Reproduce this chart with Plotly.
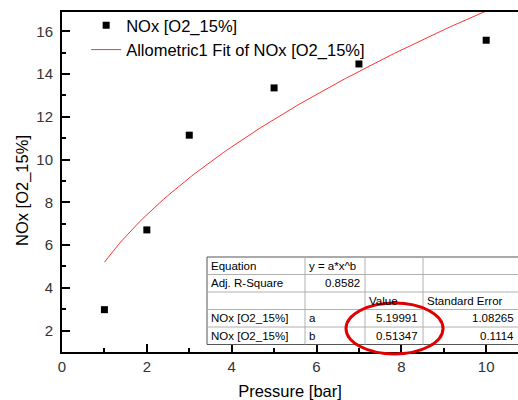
import numpy as np
import plotly.graph_objects as go

# ---- data ----
pressure = [1, 2, 3, 5, 7, 10]
nox = [2.98, 6.71, 11.14, 13.35, 14.47, 15.58]

# fit parameters shown in the table (Allometric1: y = a*x^b)
fit_a = 5.19991
fit_b = 0.51347
fit_x = list(np.linspace(1, 10.8, 120))
fit_y = [fit_a * x ** fit_b for x in fit_x]

# table contents
table_rows = [
    ["Equation", "y = a*x^b", "", ""],
    ["Adj. R-Square", "0.8582", "", ""],
    ["", "", "Value", "Standard Error"],
    ["NOx [O2_15%]", "a", "5.19991", "1.08265"],
    ["NOx [O2_15%]", "b", "0.51347", "0.1114"],
]
table_align = [
    ["left", "left", "left", "left"],
    ["left", "right", "left", "left"],
    ["left", "left", "left", "left"],
    ["left", "left", "right", "right"],
    ["left", "left", "right", "right"],
]

FONT = "Liberation Sans, Arial, sans-serif"
W, H = 518, 400
ML, MR, MT, MB = 62, 0, 12, 48
PW, PH = W - ML - MR, H - MT - MB


def px(x):
    return (x - ML) / PW


def py(y):
    return (H - MB - y) / PH


fig = go.Figure()
fig.add_trace(go.Scatter(
    x=pressure, y=nox, mode="markers", name="NOx [O2_15%]",
    marker=dict(symbol="square", size=7, color="black"),
))
fig.add_trace(go.Scatter(
    x=fit_x, y=fit_y, mode="lines", name="Allometric1 Fit of NOx [O2_15%]",
    line=dict(color="#ff3333", width=1),
))

shapes = []
annotations = []

# table geometry (pixels)
col_x = [207, 305, 365, 423, 530]
row_y = [257, 274.5, 292, 309.5, 327, 344.5]
shapes.append(dict(type="rect", xref="paper", yref="paper",
                   x0=px(col_x[0]), x1=px(col_x[-1]), y0=py(row_y[-1]), y1=py(row_y[0]),
                   fillcolor="white", line=dict(color="#555", width=1), layer="above"))
for cx in col_x[1:-1]:
    shapes.append(dict(type="line", xref="paper", yref="paper",
                       x0=px(cx), x1=px(cx), y0=py(row_y[-1]), y1=py(row_y[0]),
                       line=dict(color="#b0b0b0", width=1), layer="above"))
for ry in row_y[1:-1]:
    shapes.append(dict(type="line", xref="paper", yref="paper",
                       x0=px(col_x[0]), x1=px(col_x[-1]), y0=py(ry), y1=py(ry),
                       line=dict(color="#b0b0b0", width=1), layer="above"))

for r, row in enumerate(table_rows):
    yc = (row_y[r] + row_y[r + 1]) / 2
    for c, txt in enumerate(row):
        if not txt:
            continue
        al = table_align[r][c]
        if al == "left":
            xx, anc = col_x[c] + 2, "left"
        else:
            right_edge = col_x[c + 1] if c + 1 < len(col_x) - 1 else 519
            xx, anc = right_edge - 3, "right"
        annotations.append(dict(text=txt, xref="paper", yref="paper",
                                x=px(xx), y=py(yc), xanchor=anc, yanchor="middle",
                                showarrow=False, font=dict(family=FONT, size=11.5, color="black")))

# y axis title
annotations.append(dict(text="NOx [O2_15%]", xref="paper", yref="paper",
                        x=px(22), y=py(191), xanchor="center", yanchor="middle",
                        textangle=-90, showarrow=False,
                        font=dict(family=FONT, size=16.5, color="black")))

# red highlight ellipse
shapes.append(dict(type="circle", xref="paper", yref="paper",
                   x0=px(346), x1=px(443), y0=py(354), y1=py(303),
                   line=dict(color="#e00000", width=3), layer="above"))

axis_common = dict(
    showline=True, linecolor="black", linewidth=2,
    ticks="inside", ticklen=8, tickwidth=1.5, tickcolor="black",
    showgrid=False, zeroline=False, automargin=False,
    tickfont=dict(family=FONT, size=15, color="#333"),
    minor=dict(ticks="inside", ticklen=4, tickwidth=1.5, tickcolor="black", dtick=1, showgrid=False),
)

fig.update_layout(
    width=W, height=H,
    margin=dict(l=ML, r=MR, t=MT, b=MB),
    paper_bgcolor="white", plot_bgcolor="white",
    font=dict(family=FONT, color="black"),
    showlegend=True,
    legend=dict(x=0.053, y=1.012, xanchor="left", yanchor="top",
                bgcolor="rgba(0,0,0,0)", font=dict(family=FONT, size=16.5, color="black"),
                tracegroupgap=0, itemwidth=30),
    xaxis=dict(range=[0, 10.75], dtick=2, tick0=0, mirror=True,
               title=dict(text="Pressure [bar]", font=dict(family=FONT, size=16.5), standoff=17),
               **axis_common),
    yaxis=dict(range=[1.0, 16.9], dtick=2, tick0=0, mirror=False,
               ticklabelstandoff=4,
               **axis_common),
    shapes=shapes,
    annotations=annotations,
)

fig.write_html("out.html", config={"displayModeBar": False},
               post_script="document.body.style.margin='0';document.body.style.overflow='hidden';")
